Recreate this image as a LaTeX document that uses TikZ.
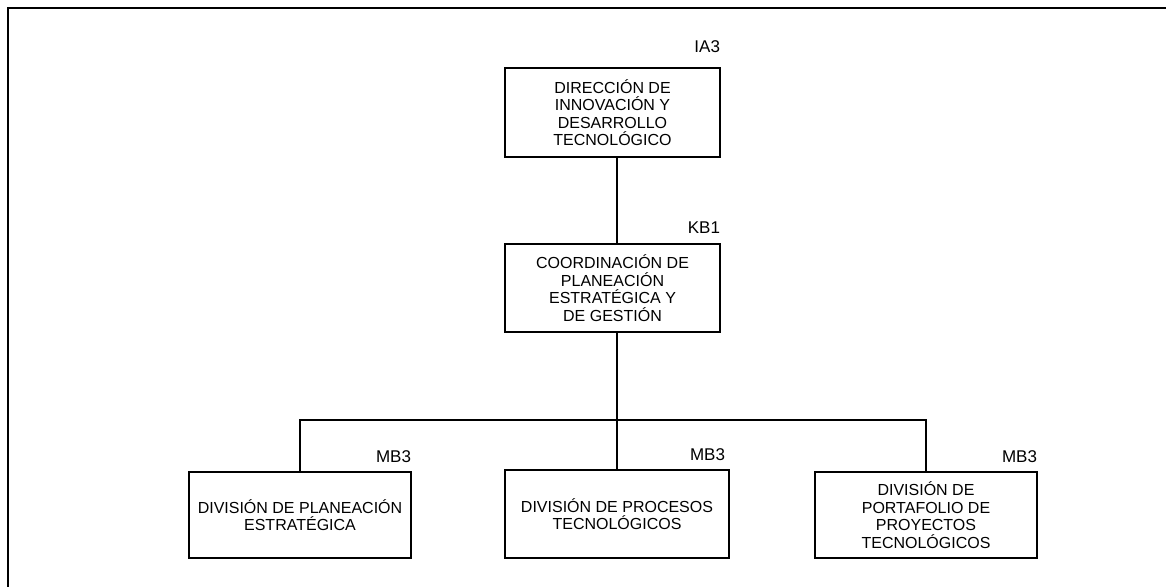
\documentclass[tikz,border=0pt]{standalone}
\usepackage{fontspec}
\setmainfont{Liberation Sans}
\usetikzlibrary{positioning}
\begin{document}
\begin{tikzpicture}[x=1pt, y=1pt, line width=1.1pt,
  unidad/.style={draw, align=center, inner sep=2pt,
    font=\fontsize{16}{17.5}\selectfont},
  clave/.style={inner sep=0pt, font=\fontsize{17}{19}\selectfont}]
% Rahmen: Bild 1166 x 587, nur oben und links
\useasboundingbox (0,0) rectangle (1166,-587);
\coordinate (RO) at (1166, -8);
\coordinate (LU) at (8, -587);
\draw (RO) -| (LU);
% Einheiten
\node[unidad, minimum width=215, minimum height=89] (ia) at (612.5, -112.5)
  {DIRECCIÓN DE\\INNOVACIÓN Y\\DESARROLLO\\TECNOLÓGICO};
\node[unidad, minimum width=215, minimum height=88] (kb) at (612.5, -288)
  {COORDINACIÓN DE\\PLANEACIÓN\\ESTRATÉGICA Y\\DE GESTIÓN};
\node[unidad, minimum width=222, minimum height=86] (pl) at (300, -515)
  {DIVISIÓN DE PLANEACIÓN\\ESTRATÉGICA};
\node[unidad, minimum width=224, minimum height=88] (pr) at (617, -514)
  {DIVISIÓN DE PROCESOS\\TECNOLÓGICOS};
\node[unidad, minimum width=222, minimum height=86] (pp) at (926, -515)
  {DIVISIÓN DE\\PORTAFOLIO DE\\PROYECTOS\\TECNOLÓGICOS};
% Claves
\node[clave, above left=14pt and 0pt of ia.north east] (kia) {IA3};
\node[clave, above left=9pt and 0pt of kb.north east] (kkb) {KB1};
\node[clave, above left=8pt and 0pt of pl.north east] (kpl) {MB3};
\node[clave, above left=8pt and 4pt of pr.north east] (kpr) {MB3};
\node[clave, above left=8pt and 0pt of pp.north east] (kpp) {MB3};
% Verbindungen
\coordinate (bus) at (617, -420);
\draw (ia.south -| pr) -- (kb.north -| pr);
\draw (kb.south -| pr) -- (pr.north);
\draw (pl.north) |- (bus) -| (pp.north);
\end{tikzpicture}
\end{document}
